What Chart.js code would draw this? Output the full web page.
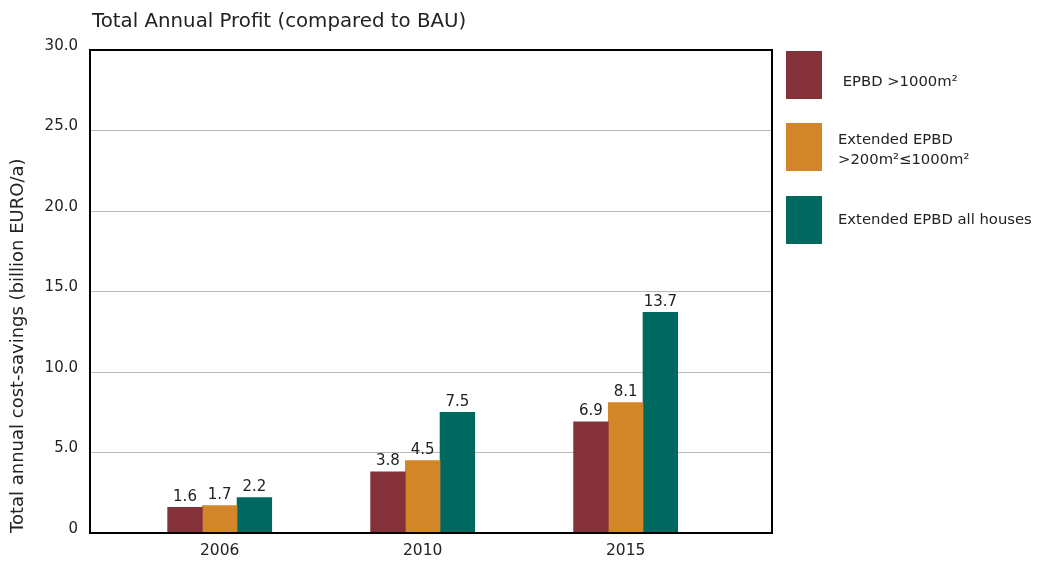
<!DOCTYPE html>
<html>
<head>
<meta charset="utf-8">
<script src="https://cdn.jsdelivr.net/npm/chart.js@4.4.1/dist/chart.umd.min.js"></script>
<style>
  html, body { margin: 0; padding: 0; background: #fff; }
  #wrap { width: 1039px; height: 563px; }
</style>
</head>
<body>
<div id="wrap"><canvas id="c" width="1039" height="563"></canvas></div>
<script>
// Categories and series values (billion EURO per year)
const years = ['2006', '2010', '2015'];
const seriesNames = ['EPBD >1000m²', 'Extended EPBD >200m²≤1000m²', 'Extended EPBD all houses'];
const legendLines = [[' EPBD >1000m²'], ['Extended EPBD', '>200m²≤1000m²'], ['Extended EPBD all houses']];
const epbd1000 = [1.6, 3.8, 6.9];
const extended200 = [1.7, 4.5, 8.1];
const extendedAll = [2.2, 7.5, 13.7];
const yTicks = [0, 5, 10, 15, 20, 25, 30];
const titleText = 'Total Annual Profit (compared to BAU)';
const yTitle = 'Total annual cost-savings (billion EURO/a)';

const colors = ['#84313a', '#d38628', '#00695f'];
const FONT = '"DejaVu Sans", sans-serif';
const TEXT = '#222';

const seriesValues = [epbd1000, extended200, extendedAll];

// Chart heading, placed at the left edge of the plot frame
const headingPlugin = {
  id: 'heading',
  afterDraw(chart) {
    const { ctx, chartArea } = chart;
    ctx.save();
    ctx.font = '19.8px ' + FONT;
    ctx.fillStyle = TEXT;
    ctx.textAlign = 'left';
    ctx.textBaseline = 'middle';
    ctx.fillText(titleText, chartArea.left + 2, 22);
    ctx.restore();
  }
};

// Black frame around the plotting area
const framePlugin = {
  id: 'frame',
  afterDatasetsDraw(chart) {
    const { ctx, chartArea: a } = chart;
    ctx.save();
    ctx.strokeStyle = '#000';
    ctx.lineWidth = 2;
    ctx.strokeRect(a.left, a.top, a.right - a.left, a.bottom - a.top);
    ctx.restore();
  }
};

// Value labels above every bar
const valueLabelPlugin = {
  id: 'valueLabels',
  afterDatasetsDraw(chart) {
    const { ctx } = chart;
    ctx.save();
    ctx.font = '15px ' + FONT;
    ctx.fillStyle = TEXT;
    ctx.textAlign = 'center';
    ctx.textBaseline = 'bottom';
    chart.data.datasets.forEach((ds, di) => {
      const meta = chart.getDatasetMeta(di);
      meta.data.forEach((el, i) => {
        ctx.fillText(ds.data[i].y.toFixed(1), el.x, el.y - 3);
      });
    });
    ctx.restore();
  }
};

// Legend with large colour swatches to the right of the plot
const sideLegendPlugin = {
  id: 'sideLegend',
  afterDraw(chart) {
    const { ctx, chartArea } = chart;
    const x0 = chartArea.right + 14;
    const boxW = 36, boxH = 48;
    const boxTops = [51, 123, 196];
    const textOffsets = [[31], [17, 37], [24]];
    ctx.save();
    ctx.font = '14.8px ' + FONT;
    ctx.textAlign = 'left';
    ctx.textBaseline = 'middle';
    chart.data.datasets.forEach((ds, i) => {
      const y = boxTops[i];
      ctx.fillStyle = ds.backgroundColor;
      ctx.fillRect(x0, y, boxW, boxH);
      ctx.fillStyle = TEXT;
      legendLines[i].forEach((t, k) => ctx.fillText(t, x0 + 52, y + textOffsets[i][k]));
    });
    ctx.restore();
  }
};

const datasets = seriesValues.map((vals, i) => ({
  label: seriesNames[i],
  data: vals.map((v, k) => ({ x: k, y: v })),
  backgroundColor: colors[i],
  borderWidth: 0,
  barThickness: 34.7
}));

new Chart(document.getElementById('c'), {
  type: 'bar',
  data: { datasets },
  options: {
    responsive: false,
    animation: false,
    devicePixelRatio: 1,
    layout: { padding: { top: 50, right: 267, bottom: 0, left: 0 } },
    plugins: {
      legend: { display: false },
      title: { display: false },
      tooltip: { enabled: false }
    },
    scales: {
      x: {
        type: 'linear',
        offset: false,
        min: -0.639,
        max: 2.721,
        afterBuildTicks: s => { s.ticks = years.map((_, i) => ({ value: i })); },
        afterFit: s => { s.height = 30; },
        grid: { display: false, drawTicks: false },
        border: { display: false },
        ticks: {
          callback: v => years[v],
          font: { family: FONT, size: 15.5 },
          color: TEXT,
          padding: 9,
          maxRotation: 0
        }
      },
      y: {
        min: 0,
        max: 30,
        afterBuildTicks: s => { s.ticks = yTicks.map(v => ({ value: v })); },
        afterFit: s => { s.width = 90; },
        grid: {
          drawTicks: false,
          color: c => (c.tick.value === 0 || c.tick.value === 30) ? 'rgba(0,0,0,0)' : '#b8b8b8',
          lineWidth: 1
        },
        border: { display: false },
        ticks: {
          callback: v => v === 0 ? '0' : v.toFixed(1),
          font: { family: FONT, size: 15 },
          color: TEXT,
          padding: 12,
          labelOffset: -4
        },
        title: {
          display: true,
          text: yTitle,
          align: 'start',
          font: { family: FONT, size: 18 },
          color: TEXT,
          padding: { top: 8, bottom: 0 }
        }
      }
    }
  },
  plugins: [headingPlugin, framePlugin, valueLabelPlugin, sideLegendPlugin]
});
</script>
</body>
</html>
